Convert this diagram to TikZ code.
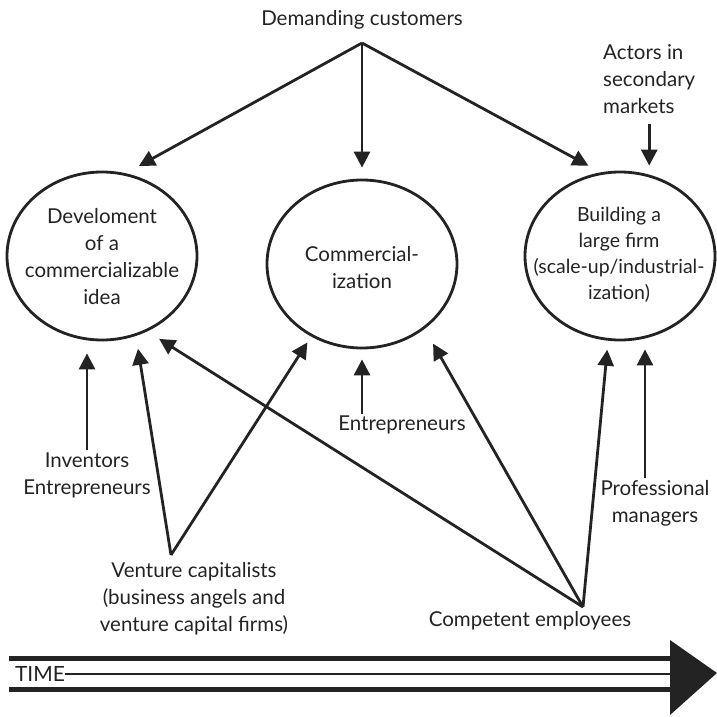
\documentclass[tikz,border=0pt]{standalone}
\usepackage{fontspec}
\setmainfont{Lato}
\usetikzlibrary{shapes.geometric,arrows.meta}
\definecolor{ink}{RGB}{35,35,35}
\tikzset{
  stage/.style={draw=ink,line width=2.8pt,ellipse,minimum width=190pt,minimum height=168pt,inner sep=0pt},
  actor/.style={align=center,text=ink,inner sep=2pt},
  arr/.style={draw=ink,line width=2.8pt,-{Triangle[length=16pt,width=16pt]}}
}
\begin{document}
\begin{tikzpicture}[x=1pt,y=-1pt,font=\fontsize{20.5}{27}\selectfont]
\useasboundingbox (0,0) rectangle (717,717);
\node[stage] (dev) at (102,256) {};
\node[stage] (com) at (362,264) {};
\node[stage] (bui) at (620,256) {};
\node[actor] (devtxt) at (102,257) {Develoment\\of a\\commercializable\\idea};
\node[actor] (comtxt) at (362,268) {Commercial-\\ization};
\node[actor,font=\fontsize{19.5}{26}\selectfont] (buitxt) at (619,255) {Building a\\large firm\\(scale-up/industrial-\\ization)};
\node[actor] (dc) at (362,20) {Demanding customers};
\node[actor,align=left,anchor=west] (act) at (601,79) {Actors in\\secondary\\markets};
\node[actor] (inv) at (87,475) {Inventors\\Entrepreneurs};
\node[actor] (ent) at (402,425) {Entrepreneurs};
\node[actor] (vc) at (194,599) {Venture capitalists\\(business angels and\\venture capital firms)};
\node[actor] (ce) at (530,621) {Competent employees};
\node[actor] (pm) at (655,503) {Professional\\managers};
\coordinate (dcpt) at (362,43);
\coordinate (vcpt) at (171,555);
\coordinate (cept) at (583,607);
\draw[arr,shorten >=15pt] (dcpt) -- (dev.74);
\draw[arr,shorten >=11pt] (dcpt) -- (com.north);
\draw[arr,shorten >=14pt] (dcpt) -- (bui.103);
\draw[arr,shorten <=8pt,shorten >=5pt] (act.south) -- (act.south |- bui.north);
\draw[arr,shorten >=12pt] (inv.north) -- (inv.north |- dev.south);
\draw[arr,shorten >=13pt] (vcpt) -- (dev.-67);
\draw[arr,shorten >=7pt] (vcpt) -- (com.-125);
\draw[arr,shorten >=10pt] (com.south |- ent.north) -- (com.south);
\draw[arr,shorten >=14pt] (cept) -- (dev.-59);
\draw[arr,shorten >=17pt] (cept) -- (com.-46);
\draw[arr,shorten >=9pt] (cept) -- (bui.-98);
\draw[arr,shorten >=8pt] ([xshift=-10pt]pm.north) -- ([xshift=-10pt]pm.north |- bui.south);
\draw[ink,line width=5pt] (9,658) -- (671,658);
\draw[ink,line width=5pt] (9,689) -- (671,689);
\node[text=ink,inner sep=0pt,font=\fontsize{21}{21}\selectfont] (time) at (40,674) {TIME};
\draw[ink,line width=1.5pt] (time.east) -- (671,674);
\fill[ink] (670,640) -- (717,673) -- (670,715) -- cycle;
\end{tikzpicture}
\end{document}
